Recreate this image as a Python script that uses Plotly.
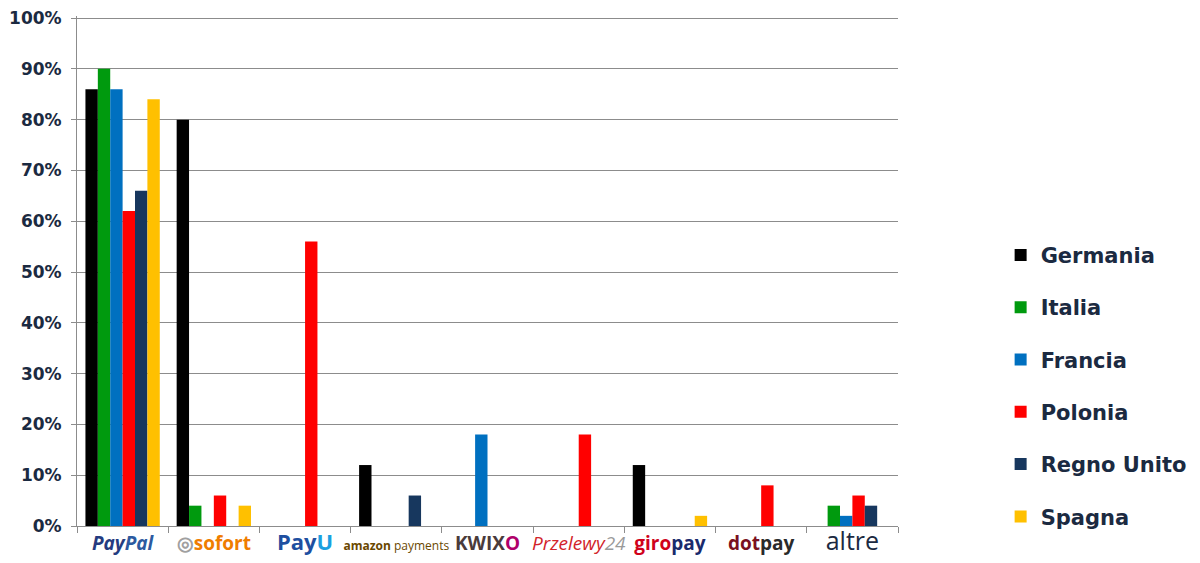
import plotly.graph_objects as go

categories = ["PayPal", "Sofort", "PayU", "Amazon Payments", "Kwixo", "Przelewy24", "giropay", "dotpay", "altre"]

tick_labels = [
    "<b><i><span style='color:#253b80'>Pay</span><span style='color:#2c5aa0'>Pal</span></i></b>",
    "<span style='color:#a0a0a0'><b>◎</b></span><b><span style='color:#ef7d00'>sofort</span></b>",
    "<b><span style='color:#1e4fa0;font-size:22px'>Pay</span><span style='color:#1aa0e0;font-size:22px'>U</span></b>",
    "<span style='color:#6a4800;font-size:12px'><b>amazon</b> payments</span>",
    "<b><span style='color:#4a3b3b'>KWIX</span><span style='color:#b0006a'>O</span></b>",
    "<i><span style='color:#d2232a'>Przelewy</span><span style='color:#9a9a9a'>24</span></i>",
    "<b><span style='color:#d0021b'>giro</span><span style='color:#1a2a6c'>pay</span></b>",
    "<b><span style='color:#7a1020'>dot</span><span style='color:#2a2a2a'>pay</span></b>",
    "<span style='color:#1b2a41;font-size:25px'>altre</span>",
]

germania    = [86, 80, 0, 12, 0, 0, 12, 0, 0]
italia      = [90, 4, 0, 0, 0, 0, 0, 0, 4]
francia     = [86, 0, 0, 0, 18, 0, 0, 0, 2]
polonia     = [62, 6, 56, 0, 0, 18, 0, 8, 6]
regno_unito = [66, 0, 0, 6, 0, 0, 0, 0, 4]
spagna      = [84, 4, 0, 0, 0, 0, 2, 0, 0]

series_names = ["Germania", "Italia", "Francia", "Polonia", "Regno Unito", "Spagna"]
series_values = [germania, italia, francia, polonia, regno_unito, spagna]
series_colors = ["#000000", "#009a0e", "#0070c0", "#ff0000", "#17375e", "#ffc000"]

fig = go.Figure()
for name, vals, col in zip(series_names, series_values, series_colors):
    fig.add_trace(go.Bar(x=categories, y=vals, name=name, marker_color=col,
                         marker_line_width=0, legendgroup=name))

text_color = "#1b2a41"
fig.update_layout(
    width=1192, height=555,
    margin=dict(l=69, r=295, t=8, b=37),
    plot_bgcolor="white", paper_bgcolor="white",
    barmode="group", bargap=0.185, bargroupgap=0,
    font=dict(family="Open Sans", color=text_color),
    legend=dict(x=1.125, xanchor="left", y=0.275, yanchor="middle",
                font=dict(size=21, color=text_color, family="DejaVu Sans", weight="bold"),
                tracegroupgap=22, itemwidth=30, bgcolor="rgba(0,0,0,0)"),
    xaxis=dict(tickmode="array", tickvals=categories, ticktext=tick_labels,
               tickson="boundaries", ticks="outside", ticklen=6, tickcolor="#8c8c8c",
               showline=True, linecolor="#8c8c8c", linewidth=1, tickangle=0,
               tickfont=dict(size=19), showgrid=False, automargin=False,
               ticklabeloverflow="allow"),
    yaxis=dict(range=[0, 100.4], tick0=0, dtick=10, ticksuffix="%",
               showgrid=True, gridcolor="#8c8c8c", gridwidth=1,
               showline=True, linecolor="#8c8c8c", linewidth=1,
               ticks="outside", ticklen=5, tickcolor="#8c8c8c",
               tickfont=dict(size=17, color=text_color, family="DejaVu Sans", weight="bold"),
               ticklabelstandoff=6, zeroline=False, automargin=False,
               ticklabeloverflow="allow"),
)

fig.write_html("out.html")
